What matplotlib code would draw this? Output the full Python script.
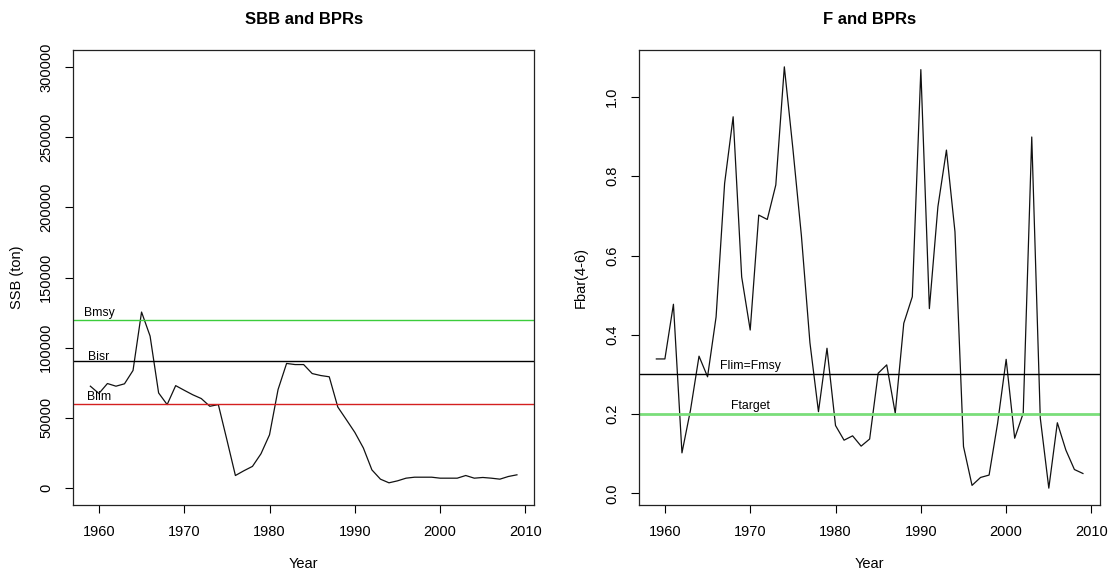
import matplotlib
matplotlib.use("Agg")
import matplotlib.pyplot as plt
import numpy as np

plt.rcParams['font.family'] = ['Liberation Sans', 'DejaVu Sans']

years = list(range(1959, 2010))
ssb = [72600, 67400, 74500, 72600, 74300, 83800, 125400, 108300, 67800, 59500,
       73000, 69700, 66500, 63800, 58300, 59500, 34500, 9000, 12400, 15500,
       24500, 38000, 70200, 88800, 88000, 88000, 81600, 80200, 79300, 57800,
       48800, 39700, 28600, 13000, 6400, 3800, 5200, 7100, 7800, 7800,
       7800, 7100, 7100, 7100, 9000, 7100, 7600, 7100, 6400, 8300, 9500]
fbar = [0.339, 0.339, 0.477, 0.102, 0.21, 0.346, 0.294, 0.445, 0.782, 0.950,
        0.546, 0.412, 0.702, 0.691, 0.778, 1.076, 0.87, 0.65, 0.38, 0.206,
        0.366, 0.171, 0.134, 0.145, 0.119, 0.137, 0.303, 0.324, 0.202, 0.429,
        0.496, 1.069, 0.466, 0.723, 0.866, 0.66, 0.118, 0.020, 0.040, 0.046,
        0.177, 0.338, 0.139, 0.202, 0.899, 0.19, 0.013, 0.178, 0.109, 0.060, 0.050]

b_refs = {"Bmsy": 120000, "Bisr": 90500, "Blim": 60000}
b_colors = {"Bmsy": "#3ccc3c", "Bisr": "black", "Blim": "#d42020"}
f_refs = {"Flim=Fmsy": 0.30, "Ftarget": 0.20}
f_colors = {"Flim=Fmsy": "black", "Ftarget": "#7ade7a"}
f_widths = {"Flim=Fmsy": 1.0, "Ftarget": 2.0}

ssb_ticks = [0, 50000, 100000, 150000, 200000, 250000, 300000]
f_ticks = [0.0, 0.2, 0.4, 0.6, 0.8, 1.0]
year_ticks = [1960, 1970, 1980, 1990, 2000, 2010]

W, H = 1111, 575
fig = plt.figure(figsize=(W / 100, H / 100), dpi=100)

def px_axes(x0, x1, y0, y1):
    return fig.add_axes([x0 / W, 1 - y1 / H, (x1 - x0) / W, (y1 - y0) / H])

ax1 = px_axes(73.3, 534, 50, 505)
ax2 = px_axes(639.3, 1100, 50, 505)

def style(ax, ylabel, ylab_x):
    ax.tick_params(axis='both', direction='out', length=5.5, width=0.8,
                   labelsize=10.5, pad=9, colors='black')
    ax.tick_params(axis='y', labelrotation=90)
    for lab in ax.get_yticklabels():
        lab.set_va('center')
    for sp in ax.spines.values():
        sp.set_linewidth(0.9)
        sp.set_color('#222222')
    ax.set_xlabel('Year', fontsize=10.5, va='center')
    ax.xaxis.set_label_coords(0.5, -0.1297)
    ax.set_ylabel(ylabel, fontsize=10.5, va='center')
    ax.yaxis.set_label_coords(ylab_x, 0.5)

yr = np.array(years)
xr = yr.max() - yr.min()
xlim = (yr.min() - 0.04 * xr, yr.max() + 0.04 * xr)

# Left panel
ax1.plot(years, ssb, color='#111111', lw=0.9)
for name, val in b_refs.items():
    ax1.axhline(val, color=b_colors[name], lw=1.0)
    off = 4.5 if name == "Bisr" else 6.5
    ax1.annotate(name, (1960, val), xytext=(0, off), textcoords='offset pixels',
                 ha='center', va='center', fontsize=8.8)
ax1.set_xlim(*xlim)
ax1.set_ylim(-12000, 312000)
ax1.set_xticks(year_ticks)
ax1.set_yticks(ssb_ticks)
ax1.set_yticklabels([str(t) for t in ssb_ticks])
ax1.set_title('SBB and BPRs', fontsize=12, fontweight='bold', pad=19)
style(ax1, 'SSB (ton)', -0.1229)

# Right panel
fa = np.array(fbar)
fr = fa.max() - fa.min()
ax2.plot(years, fbar, color='#111111', lw=0.9)
for name, val in f_refs.items():
    ax2.axhline(val, color=f_colors[name], lw=f_widths[name])
    ax2.annotate(name, (1970, val), xytext=(0, 8), textcoords='offset pixels',
                 ha='center', va='center', fontsize=8.8)
ax2.set_xlim(*xlim)
ax2.set_ylim(fa.min() - 0.04 * fr, fa.max() + 0.04 * fr)
ax2.set_xticks(year_ticks)
ax2.set_yticks(f_ticks)
ax2.set_yticklabels([f"{t:.1f}" for t in f_ticks])
ax2.set_title('F and BPRs', fontsize=12, fontweight='bold', pad=19)
style(ax2, 'Fbar(4-6)', -0.127)

fig.savefig('out.png', dpi=100)
